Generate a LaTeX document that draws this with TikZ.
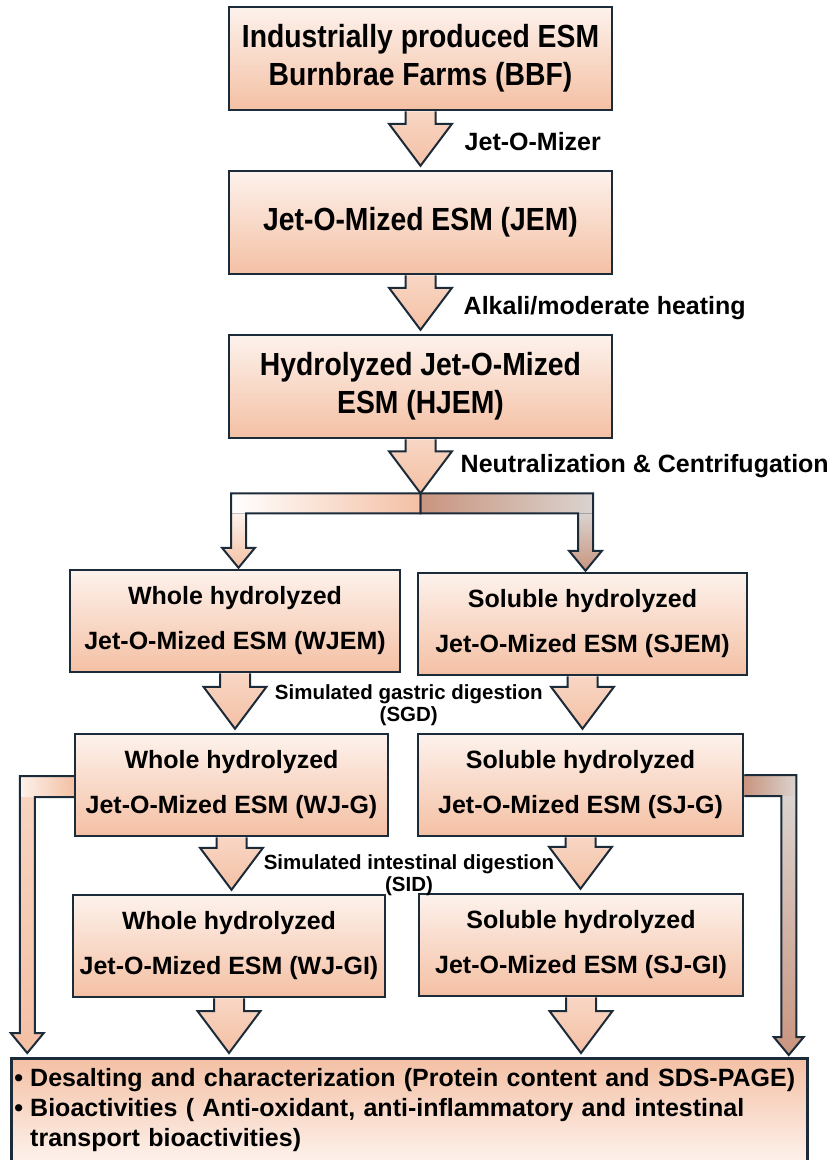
\documentclass[tikz,border=0pt]{standalone}
\usepackage{fontspec}
\setmainfont{Liberation Sans}
\newfontfamily\topfont[FakeStretch=0.885]{Liberation Sans}
\usetikzlibrary{calc,backgrounds}
\definecolor{peachlight}{HTML}{FDF2EC}
\definecolor{peach}{HTML}{F4C0A4}
\definecolor{peachbrown}{HTML}{C9957F}
\definecolor{peachgrey}{HTML}{DAD3CF}
\definecolor{navyline}{HTML}{1C2B39}
\tikzstyle{topbox} = [rectangle, minimum width=383pt, minimum height=103pt, align=center, draw=navyline, line width=2.5pt, top color=peachlight, bottom color=peach, font=\topfont\bfseries\fontsize{32}{38}\selectfont]
\tikzstyle{lowbox} = [rectangle, minimum height=102pt, align=center, draw=navyline, line width=2.5pt, top color=peachlight, bottom color=peach, font=\bfseries\fontsize{25}{45}\selectfont]
\tikzstyle{sumbox} = [rectangle, anchor=north west, minimum width=796pt, minimum height=104pt, text width=790pt, inner xsep=3pt, align=left, draw=navyline, line width=2.5pt, top color=peach, bottom color=peachlight, font=\bfseries\fontsize{25}{30}\selectfont]
\tikzstyle{steplabel} = [anchor=west, inner sep=0pt, font=\bfseries\fontsize{25}{30}\selectfont]
\tikzstyle{digestlabel} = [align=center, inner sep=0pt, font=\bfseries\fontsize{20.5}{22}\selectfont]
\tikzstyle{blockarrow} = [draw=navyline, line width=2pt, top color=peach!55!peachlight, bottom color=peach]
\tikzstyle{outline} = [draw=navyline, line width=2pt]
% block arrow from a box bottom down to a point, #1 = gap at the tip
\newcommand{\blockarrow}[3][4]{%
  \coordinate (bs) at (#2);
  \coordinate (bt) at ($(#2 |- #3)+(0,#1)$);
  \draw[blockarrow] ($(bs)+(-15,0)$) -- ($(bt)+(-15,42)$) -- ($(bt)+(-31.5,42)$) -- (bt) -- ($(bt)+(31.5,42)$) -- ($(bt)+(15,42)$) -- ($(bs)+(15,0)$);
}

\begin{document}
\begin{tikzpicture}[x=1pt, y=1pt, node distance=164pt]
\useasboundingbox (0,0) rectangle (837,-1160);

% main column
\node (bbf) [topbox] at (420.5,-58.5) {Industrially produced ESM\\Burnbrae Farms (BBF)};
\node (jem) [topbox, below of=bbf] {Jet-O-Mized ESM (JEM)};
\node (hjem) [topbox, below of=jem] {Hydrolyzed Jet-O-Mized\\ESM (HJEM)};

% whole and soluble branches
\node (wjem) [lowbox, minimum width=330pt] at (235,-621) {Whole hydrolyzed\\Jet-O-Mized ESM (WJEM)};
\node (wjg) [lowbox, minimum width=313pt, below of=wjem, xshift=-3.5pt] {Whole hydrolyzed\\Jet-O-Mized ESM (WJ-G)};
\node (wjgi) [lowbox, minimum width=312pt, below of=wjg, xshift=-2.5pt, yshift=3pt] {Whole hydrolyzed\\Jet-O-Mized ESM (WJ-GI)};
\node (sjem) [lowbox, minimum width=329pt] at (582.5,-624) {Soluble hydrolyzed\\Jet-O-Mized ESM (SJEM)};
\node (sjg) [lowbox, minimum width=325pt, below of=sjem, xshift=-2pt, yshift=3pt] {Soluble hydrolyzed\\Jet-O-Mized ESM (SJ-G)};
\node (sjgi) [lowbox, minimum width=324pt, below of=sjg, xshift=0.5pt, yshift=4pt] {Soluble hydrolyzed\\Jet-O-Mized ESM (SJ-GI)};

\node (summary) [sumbox] at (10,-1057) {\makebox[16pt][l]{•}Desalting and characterization (Protein content and SDS-PAGE)\\
\makebox[16pt][l]{•}Bioactivities ( Anti-oxidant, anti-inflammatory and intestinal\\
\hspace*{16pt}transport bioactivities)};

% step labels
\node (lbjet) [steplabel] at ($(bbf.south)+(44,-30)$) {Jet-O-Mizer};
\node (lbalk) [steplabel] at ($(jem.south)+(43,-33)$) {Alkali/moderate heating};
\node (lbneu) [steplabel] at ($(hjem.south)+(40,-27)$) {Neutralization \& Centrifugation};
\node (lbsgd) [digestlabel] at ($($(wjem.south)!0.5!(sjem.south)$)+(0,-30)$) {Simulated gastric digestion\\(SGD)};
\node (lbsid) [digestlabel] at ($($(wjg.south)!0.5!(sjg.south)$)+(3,-38)$) {Simulated intestinal digestion\\(SID)};

\begin{scope}[on background layer]
\fill[white] (0,0) rectangle (837,-1160);
\blockarrow{bbf.south}{jem.north}
\blockarrow{jem.south}{hjem.north}
\coordinate (split) at ($(hjem.south)+(0,-54)$);
\blockarrow[0]{hjem.south}{split}
\blockarrow{wjem.south}{wjg.north}
\blockarrow{sjem.south}{sjg.north}
\blockarrow{wjg.south}{wjgi.north}
\blockarrow{sjg.south}{sjgi.north}
\blockarrow{wjgi.south}{summary.north}
\blockarrow{sjgi.south}{summary.north}

% split into the two branches
\coordinate (wtip) at ($(wjem.north)+(3.5,1)$);
\coordinate (wbar) at (wtip |- split);
\fill[left color=white, right color=peach] ($(wbar)+(-7.5,0)$) rectangle ($(split)+(0,-20)$);
\fill[top color=peachlight, bottom color=peach] ($(wbar)+(-7.5,-20)$) -- ($(wtip)+(-7.5,20)$) -- ($(wtip)+(-16.5,20)$) -- (wtip) -- ($(wtip)+(16.5,20)$) -- ($(wtip)+(7.5,20)$) -- ($(wbar)+(7.5,-20)$) -- cycle;
\draw[outline] (split) -- ($(wbar)+(-7.5,0)$) -- ($(wtip)+(-7.5,20)$) -- ($(wtip)+(-16.5,20)$) -- (wtip) -- ($(wtip)+(16.5,20)$) -- ($(wtip)+(7.5,20)$) -- ($(wbar)+(7.5,-20)$) -- ($(split)+(0,-20)$) -- cycle;
\coordinate (stip) at ($(sjem.north)+(3,1)$);
\coordinate (sbar) at (stip |- split);
\fill[left color=peachbrown, right color=peachgrey] (split) rectangle ($(sbar)+(7.5,-20)$);
\fill[top color=peachgrey, bottom color=peachbrown] ($(sbar)+(-7.5,-20)$) -- ($(stip)+(-7.5,20)$) -- ($(stip)+(-16.5,20)$) -- (stip) -- ($(stip)+(16.5,20)$) -- ($(stip)+(7.5,20)$) -- ($(sbar)+(7.5,-20)$) -- cycle;
\draw[outline] (split) -- ($(sbar)+(7.5,0)$) -- ($(stip)+(7.5,20)$) -- ($(stip)+(16.5,20)$) -- (stip) -- ($(stip)+(-16.5,20)$) -- ($(stip)+(-7.5,20)$) -- ($(sbar)+(-7.5,-20)$) -- ($(split)+(0,-20)$) -- cycle;

% side arrows straight to the summary
\coordinate (larm) at ($(wjg.west)+(0,-1.5)$);
\coordinate (lshaft) at ($(larm)+(-46.5,0)$);
\coordinate (ltip) at ($(lshaft |- summary.north)+(0,4)$);
\fill[left color=peachlight, right color=peach] ($(lshaft)+(-7.5,10.5)$) rectangle ($(larm)+(0,-10.5)$);
\fill[top color=peach!60!peachlight, bottom color=peach] ($(lshaft)+(-7.5,-10.5)$) -- ($(ltip)+(-7.5,20)$) -- ($(ltip)+(-16.5,20)$) -- (ltip) -- ($(ltip)+(16.5,20)$) -- ($(ltip)+(7.5,20)$) -- ($(lshaft)+(7.5,-10.5)$) -- cycle;
\draw[outline] ($(larm)+(0,10.5)$) -- ($(lshaft)+(-7.5,10.5)$) -- ($(ltip)+(-7.5,20)$) -- ($(ltip)+(-16.5,20)$) -- (ltip) -- ($(ltip)+(16.5,20)$) -- ($(ltip)+(7.5,20)$) -- ($(lshaft)+(7.5,-10.5)$) -- ($(larm)+(0,-10.5)$);
\coordinate (rarm) at ($(sjg.east)+(0,-0.5)$);
\coordinate (rshaft) at ($(rarm)+(44.5,0)$);
\coordinate (rtip) at ($(rshaft |- summary.north)+(0,2)$);
\fill[left color=peachbrown, right color=peachgrey] ($(rarm)+(0,10.5)$) rectangle ($(rshaft)+(7.5,-10.5)$);
\fill[top color=peachgrey, bottom color=peachbrown] ($(rshaft)+(-7.5,-10.5)$) -- ($(rtip)+(-7.5,18)$) -- ($(rtip)+(-15,18)$) -- (rtip) -- ($(rtip)+(15,18)$) -- ($(rtip)+(7.5,18)$) -- ($(rshaft)+(7.5,-10.5)$) -- cycle;
\draw[outline] ($(rarm)+(0,10.5)$) -- ($(rshaft)+(7.5,10.5)$) -- ($(rtip)+(7.5,18)$) -- ($(rtip)+(15,18)$) -- (rtip) -- ($(rtip)+(-15,18)$) -- ($(rtip)+(-7.5,18)$) -- ($(rshaft)+(-7.5,-10.5)$) -- ($(rarm)+(0,-10.5)$);
\end{scope}
\end{tikzpicture}
\end{document}
